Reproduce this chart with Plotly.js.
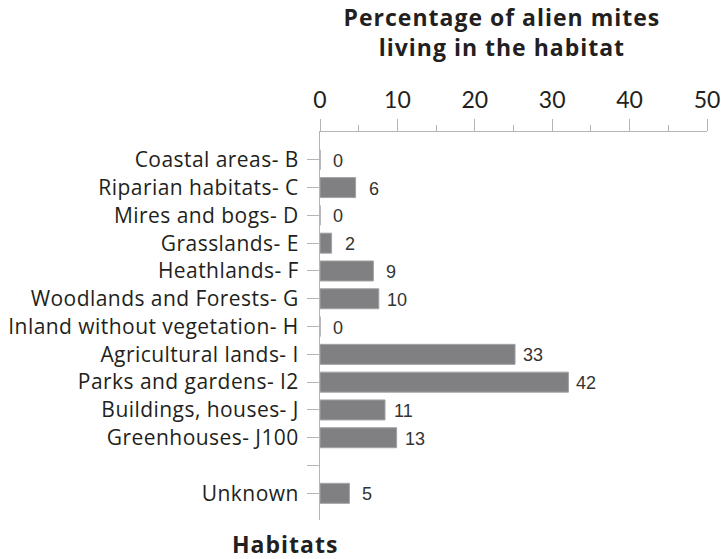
<!DOCTYPE html>
<html>
<head>
<meta charset="utf-8">
<script src="https://cdn.plot.ly/plotly-3.0.1.min.js"></script>
<style>
html,body{margin:0;padding:0;background:#fff;}
#chart{width:721px;height:559px;}
#chart .ytick text{letter-spacing:0.45px;}
#chart text.spaced{letter-spacing:1px;}
</style>
</head>
<body>
<div id="chart"></div>
<script>
// Habitat categories (blank slot between J100 and Unknown as in the original)
const categories = [
  "Coastal areas- B",
  "Riparian habitats- C",
  "Mires and bogs- D",
  "Grasslands- E",
  "Heathlands- F",
  "Woodlands and Forests- G",
  "Inland without vegetation- H",
  "Agricultural lands- I",
  "Parks and gardens- I2",
  "Buildings, houses- J",
  "Greenhouses- J100",
  " ",
  "Unknown"
];
// Bar lengths: percentage of alien mites living in the habitat
const percentages = [0, 4.6, 0, 1.5, 6.9, 7.6, 0, 25.2, 32.1, 8.4, 9.9, null, 3.8];
// Labels printed next to the bars: number of species
const counts = [0, 6, 0, 2, 9, 10, 0, 33, 42, 11, 13, null, 5];
const xTicks = [0, 10, 20, 30, 40, 50];
const titleLines = ["Percentage of alien mites", "living in the habitat"];
const yTitle = "Habitats";

const labelFont = "'Open Sans', Lato, sans-serif";
const numFont = "Lato, 'Open Sans', sans-serif";
const textColor = "#231f20";
const axisColor = "#b5b5b5";

// plot area in pixels (for converting annotation positions)
const M = { l: 320, r: 14, t: 132, b: 39 };
const PW = 721 - M.l - M.r, PH = 559 - M.t - M.b;
const px2x = px => (px - M.l) / PW;
const py2y = py => 1 - (py - M.t) / PH;

const trace = {
  type: "bar",
  orientation: "h",
  y: categories,
  x: percentages,
  width: 0.72,
  marker: { color: "#808083", line: { color: "#a3a3a6", width: 1 } },
  hoverinfo: "skip"
};

const annotations = [];
categories.forEach((c, i) => {
  if (counts[i] === null) return;
  annotations.push({
    x: percentages[i], y: c, xref: "x", yref: "y",
    text: String(counts[i]), showarrow: false,
    xanchor: "center", yanchor: "middle", xshift: 18, yshift: -1,
    font: { family: "'Liberation Sans', Arial, sans-serif", size: 18, color: "#333333" }
  });
});
// chart title (two lines)
annotations.push({
  xref: "paper", yref: "paper", x: px2x(502), y: py2y(32),
  xanchor: "center", yanchor: "middle", showarrow: false,
  text: "<b>" + titleLines.join("<br>") + "</b>",
  font: { family: labelFont, size: 23, color: textColor }
});
// category-axis title below the labels
annotations.push({
  xref: "paper", yref: "paper", x: px2x(285), y: py2y(544),
  xanchor: "center", yanchor: "middle", showarrow: false,
  text: "<b>" + yTitle + "</b>",
  font: { family: labelFont, size: 23, color: textColor }
});

const layout = {
  width: 721, height: 559,
  margin: { l: M.l, r: M.r, t: M.t, b: M.b, pad: 0 },
  paper_bgcolor: "#ffffff", plot_bgcolor: "#ffffff",
  showlegend: false,
  xaxis: {
    side: "top", range: [0, 50], tickvals: xTicks, ticktext: xTicks.map(String),
    showgrid: false, zeroline: false,
    showline: true, linecolor: axisColor, linewidth: 1,
    ticks: "outside", ticklen: 12, tickcolor: axisColor, tickwidth: 1,
    ticklabelstandoff: 2,
    tickfont: { family: numFont, size: 23, color: textColor },
    minor: { dtick: 5, tick0: 0, ticks: "outside", ticklen: 6, tickcolor: axisColor, showgrid: false }
  },
  yaxis: {
    type: "category", categoryorder: "array", categoryarray: categories,
    range: [12.96, -1.0],
    showgrid: false, zeroline: false,
    showline: true, linecolor: axisColor, linewidth: 1,
    ticks: "outside", ticklen: 12, tickcolor: axisColor, tickwidth: 1,
    ticklabelstandoff: 4,
    tickfont: { family: labelFont, size: 21, color: textColor }
  },
  annotations: annotations
};

Plotly.newPlot("chart", [trace], layout, { staticPlot: true, displayModeBar: false }).then(gd => {
  gd.querySelectorAll("text.annotation-text").forEach(t => {
    const s = t.textContent;
    if (s.indexOf(titleLines[0]) >= 0 || s === yTitle) t.classList.add("spaced");
  });
});
</script>
</body>
</html>
